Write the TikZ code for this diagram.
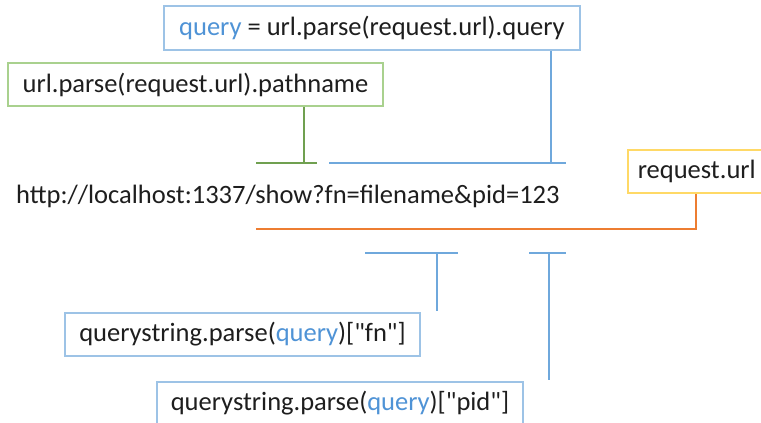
\documentclass[tikz,border=0pt]{standalone}
\usepackage{fontspec}
\setmainfont{Carlito}[Ligatures=TeXOff]
\definecolor{textc}{HTML}{1E1E1E}
\definecolor{qblue}{HTML}{4F93D6}
\definecolor{boxblue}{HTML}{9DC3E6}
\definecolor{boxgreen}{HTML}{A9D18E}
\definecolor{boxgold}{HTML}{FFD966}
\definecolor{lineblue}{HTML}{6FA8DC}
\definecolor{linegreen}{HTML}{70A050}
\definecolor{lineorange}{HTML}{ED7D31}
\begin{document}
\begin{tikzpicture}[x=1pt,y=-1pt,
  lbl/.style={font=\fontsize{26.5}{30}\selectfont, text=textc},
  box/.style={lbl, draw, line width=1.5pt, inner sep=0pt, minimum height=43pt},
  conn/.style={line width=2pt}]
\useasboundingbox (0,0) rectangle (761,423);
\fill[white] (0,0) rectangle (761,423);
% boxes
\node[box, draw=boxblue, minimum width=416pt, minimum height=44pt] (q) at (372,28)
  {\textcolor{qblue}{query} = url.parse(request.url).query};
\node[box, draw=boxgreen, minimum width=375pt] (p) at (195.5,84.5)
  {url.parse(request.url).pathname};
\node[box, draw=boxgold, anchor=west, text width=128pt, align=left, inner xsep=10pt] (r) at (627,171.5)
  {request.url};
\node[lbl, anchor=base west, inner sep=0pt] (url) at (16,203)
  {http://localhost:1337/show?fn=filename\&pid=123};
\node[box, draw=boxblue, minimum width=355pt] (fn) at (242.5,334.5)
  {querystring.parse(\textcolor{qblue}{query})["fn"]};
\node[box, draw=boxblue, minimum width=366pt] (pid) at (340,403.5)
  {querystring.parse(\textcolor{qblue}{query})["pid"]};
% bracket coordinates
\coordinate (qT) at (551,163);
\coordinate (qL) at (329,163);
\coordinate (qR) at (566,163);
\coordinate (pT) at (304,163);
\coordinate (pL) at (256,163);
\coordinate (pR) at (317,163);
\coordinate (rC) at (696,229);
\coordinate (rL) at (256,229);
\coordinate (fT) at (437,253);
\coordinate (fL) at (365,253);
\coordinate (fR) at (458,253);
\coordinate (fE) at (437,311);
\coordinate (dT) at (549,253);
\coordinate (dL) at (529,253);
\coordinate (dR) at (566,253);
\coordinate (dE) at (549,380);
% connectors
\draw[conn, lineblue] (q.south -| qT) -- (qT);
\draw[conn, lineblue] (qL) -- (qR);
\draw[conn, linegreen] (p.south -| pT) -- (pT);
\draw[conn, linegreen] (pL) -- (pR);
\draw[conn, lineorange] (r.south -| rC) -- (rC) -- (rL);
\draw[conn, lineblue] (fL) -- (fR);
\draw[conn, lineblue] (fT) -- (fE);
\draw[conn, lineblue] (dL) -- (dR);
\draw[conn, lineblue] (dT) -- (dE);
\end{tikzpicture}
\end{document}
